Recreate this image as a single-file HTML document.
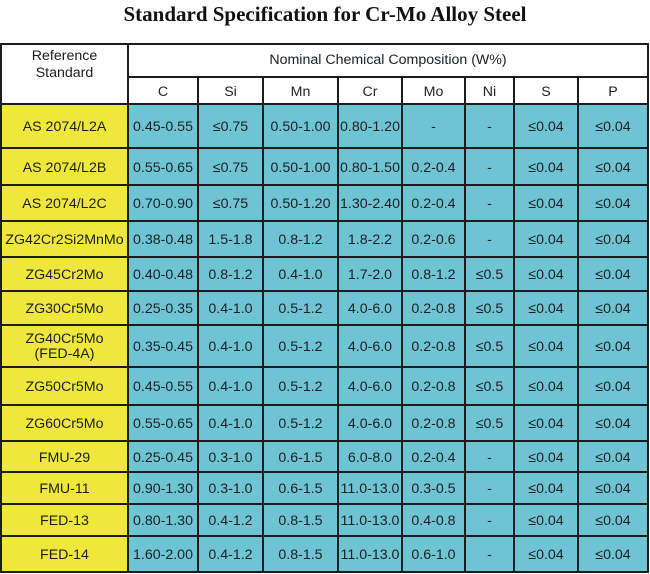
<!DOCTYPE html>
<html>
<head>
<meta charset="utf-8">
<style>
html,body{margin:0;padding:0;background:#fff;}
#w{position:relative;width:650px;height:574px;overflow:hidden;background:#fff;font-family:"Liberation Sans",Arial,sans-serif;color:#1b1f22;}
.t{position:absolute;left:0;top:1px;width:650px;text-align:center;font-family:"Liberation Serif","Times New Roman",serif;font-weight:bold;font-size:21px;line-height:26px;color:#111;}
.r{position:absolute;left:0;width:650px;}
.r div{position:absolute;top:0;height:100%;box-sizing:border-box;padding-top:2px;display:flex;align-items:center;justify-content:center;text-align:center;font-size:14.2px;line-height:16px;background:#6fc4d4;white-space:nowrap;}
.r div:nth-child(1){left:1px;width:127px;background:#efe73b;}
.r div:nth-child(2){left:128px;width:70px;}
.r div:nth-child(3){left:198px;width:65px;}
.r div:nth-child(4){left:263px;width:75px;}
.r div:nth-child(5){left:338px;width:64px;}
.r div:nth-child(6){left:402px;width:63px;}
.r div:nth-child(7){left:465px;width:49px;}
.r div:nth-child(8){left:514px;width:64px;}
.r div:nth-child(9){left:578px;width:70px;}
.h div{background:#fff !important;}
.v{position:absolute;width:2px;background:#1c1c1c;}
.hl{position:absolute;height:2px;background:#1c1c1c;}
.hd{position:absolute;font-size:14.2px;line-height:17px;text-align:center;}
</style>
</head>
<body>
<div id="w">
<div class="t">Standard Specification for Cr-Mo Alloy Steel</div>

<div class="r h" style="top:77px;height:27px;"><div style="background:#fff"></div><div>C</div><div>Si</div><div>Mn</div><div>Cr</div><div>Mo</div><div>Ni</div><div>S</div><div>P</div></div>

<div class="r" style="top:104px;height:44px;"><div>AS 2074/L2A</div><div>0.45-0.55</div><div>≤0.75</div><div>0.50-1.00</div><div>0.80-1.20</div><div>-</div><div>-</div><div>≤0.04</div><div>≤0.04</div></div>
<div class="r" style="top:148px;height:37px;"><div>AS 2074/L2B</div><div>0.55-0.65</div><div>≤0.75</div><div>0.50-1.00</div><div>0.80-1.50</div><div>0.2-0.4</div><div>-</div><div>≤0.04</div><div>≤0.04</div></div>
<div class="r" style="top:185px;height:36px;"><div>AS 2074/L2C</div><div>0.70-0.90</div><div>≤0.75</div><div>0.50-1.20</div><div>1.30-2.40</div><div>0.2-0.4</div><div>-</div><div>≤0.04</div><div>≤0.04</div></div>
<div class="r" style="top:221px;height:36px;"><div>ZG42Cr2Si2MnMo</div><div>0.38-0.48</div><div>1.5-1.8</div><div>0.8-1.2</div><div>1.8-2.2</div><div>0.2-0.6</div><div>-</div><div>≤0.04</div><div>≤0.04</div></div>
<div class="r" style="top:257px;height:34px;"><div>ZG45Cr2Mo</div><div>0.40-0.48</div><div>0.8-1.2</div><div>0.4-1.0</div><div>1.7-2.0</div><div>0.8-1.2</div><div>≤0.5</div><div>≤0.04</div><div>≤0.04</div></div>
<div class="r" style="top:291px;height:34px;"><div>ZG30Cr5Mo</div><div>0.25-0.35</div><div>0.4-1.0</div><div>0.5-1.2</div><div>4.0-6.0</div><div>0.2-0.8</div><div>≤0.5</div><div>≤0.04</div><div>≤0.04</div></div>
<div class="r" style="top:325px;height:42px;"><div style="line-height:15px;">ZG40Cr5Mo<br>(FED-4A)</div><div>0.35-0.45</div><div>0.4-1.0</div><div>0.5-1.2</div><div>4.0-6.0</div><div>0.2-0.8</div><div>≤0.5</div><div>≤0.04</div><div>≤0.04</div></div>
<div class="r" style="top:367px;height:38px;"><div>ZG50Cr5Mo</div><div>0.45-0.55</div><div>0.4-1.0</div><div>0.5-1.2</div><div>4.0-6.0</div><div>0.2-0.8</div><div>≤0.5</div><div>≤0.04</div><div>≤0.04</div></div>
<div class="r" style="top:405px;height:36px;"><div>ZG60Cr5Mo</div><div>0.55-0.65</div><div>0.4-1.0</div><div>0.5-1.2</div><div>4.0-6.0</div><div>0.2-0.8</div><div>≤0.5</div><div>≤0.04</div><div>≤0.04</div></div>
<div class="r" style="top:441px;height:31px;"><div>FMU-29</div><div>0.25-0.45</div><div>0.3-1.0</div><div>0.6-1.5</div><div>6.0-8.0</div><div>0.2-0.4</div><div>-</div><div>≤0.04</div><div>≤0.04</div></div>
<div class="r" style="top:472px;height:32px;"><div>FMU-11</div><div>0.90-1.30</div><div>0.3-1.0</div><div>0.6-1.5</div><div>11.0-13.0</div><div>0.3-0.5</div><div>-</div><div>≤0.04</div><div>≤0.04</div></div>
<div class="r" style="top:504px;height:32px;"><div>FED-13</div><div>0.80-1.30</div><div>0.4-1.2</div><div>0.8-1.5</div><div>11.0-13.0</div><div>0.4-0.8</div><div>-</div><div>≤0.04</div><div>≤0.04</div></div>
<div class="r" style="top:536px;height:36px;"><div>FED-14</div><div>1.60-2.00</div><div>0.4-1.2</div><div>0.8-1.5</div><div>11.0-13.0</div><div>0.6-1.0</div><div>-</div><div>≤0.04</div><div>≤0.04</div></div>

<!-- header text on top -->
<div class="hd" style="left:1px;width:127px;top:48px;">Reference<br>Standard</div>
<div class="hd" style="left:128px;width:520px;top:52px;">Nominal Chemical Composition (W%)</div>

<!-- vertical lines -->
<div class="v" style="left:0px;top:43px;height:530px;"></div>
<div class="v" style="left:127px;top:43px;height:530px;"></div>
<div class="v" style="left:197px;top:76px;height:497px;"></div>
<div class="v" style="left:262px;top:76px;height:497px;"></div>
<div class="v" style="left:337px;top:76px;height:497px;"></div>
<div class="v" style="left:401px;top:76px;height:497px;"></div>
<div class="v" style="left:464px;top:76px;height:497px;"></div>
<div class="v" style="left:513px;top:76px;height:497px;"></div>
<div class="v" style="left:577px;top:76px;height:497px;"></div>
<div class="v" style="left:647px;top:43px;height:530px;"></div>

<!-- horizontal lines -->
<div class="hl" style="left:0;width:649px;top:43px;"></div>
<div class="hl" style="left:127px;width:522px;top:76px;"></div>
<div class="hl" style="left:0;width:649px;top:103px;"></div>
<div class="hl" style="left:0;width:649px;top:147px;"></div>
<div class="hl" style="left:0;width:649px;top:184px;"></div>
<div class="hl" style="left:0;width:649px;top:220px;"></div>
<div class="hl" style="left:0;width:649px;top:256px;"></div>
<div class="hl" style="left:0;width:649px;top:290px;"></div>
<div class="hl" style="left:0;width:649px;top:324px;"></div>
<div class="hl" style="left:0;width:649px;top:366px;"></div>
<div class="hl" style="left:0;width:649px;top:404px;"></div>
<div class="hl" style="left:0;width:649px;top:440px;"></div>
<div class="hl" style="left:0;width:649px;top:471px;"></div>
<div class="hl" style="left:0;width:649px;top:503px;"></div>
<div class="hl" style="left:0;width:649px;top:535px;"></div>
<div class="hl" style="left:0;width:649px;top:571px;"></div>
</div>
</body>
</html>
